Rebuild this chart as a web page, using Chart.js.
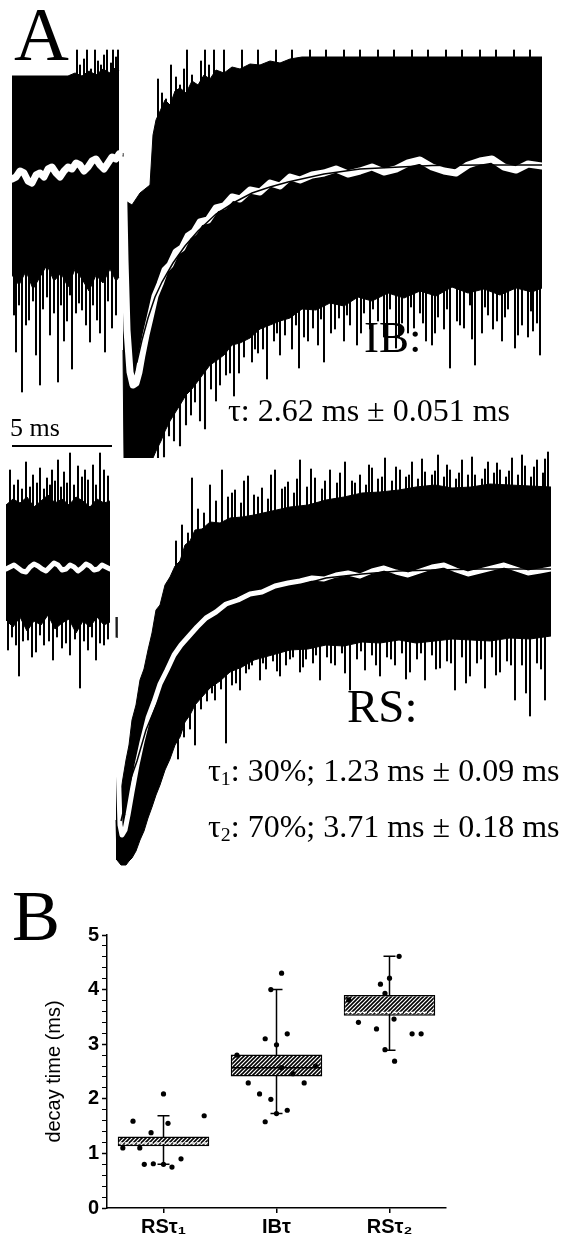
<!DOCTYPE html>
<html>
<head>
<meta charset="utf-8">
<script src="https://cdn.jsdelivr.net/npm/chart.js@4.4.0/dist/chart.umd.min.js"></script>
<style>
  html, body { margin: 0; padding: 0; background: #fff; overflow: hidden; }
  #page { position: relative; width: 565px; height: 1247px; }
  canvas { position: absolute; }
  .t { position: absolute; line-height: 1; white-space: nowrap; color: #000;
       font-family: "Liberation Serif", "Times New Roman", serif; }
  .t sub { font-size: 0.62em; vertical-align: -0.22em; line-height: 0; }
</style>
</head>
<body>
<div id="page">
  <canvas id="ib" width="530" height="410" style="left:12px;top:48px"></canvas>
  <canvas id="rs" width="545" height="420" style="left:6px;top:450px"></canvas>
  <canvas id="box" width="470" height="327" style="left:0;top:920px"></canvas>

  <div class="t" style="left:14px;top:-4px;font-size:76px">A</div>
  <div class="t" style="left:10px;top:415px;font-size:26px">5 ms</div>
  <div class="t" style="left:364px;top:315px;font-size:45px">IB:</div>
  <div class="t" style="left:228px;top:394px;font-size:32px">τ: 2.62 ms ± 0.051 ms</div>
  <div class="t" style="left:347px;top:683px;font-size:47px">RS:</div>
  <div class="t" style="left:208px;top:754px;font-size:32px">τ<sub>1</sub>: 30%; 1.23 ms ± 0.09 ms</div>
  <div class="t" style="left:208px;top:810px;font-size:32px">τ<sub>2</sub>: 70%; 3.71 ms ± 0.18 ms</div>
  <div class="t" style="left:12px;top:880px;font-size:72px">B</div>
</div>

<script>
// ---- panel A, IB cell (time in ms, current in pA, baseline 0) ----
// solid part of the overlaid raw sweeps
const ibCoreT   = [0, 0.35, 0.7, 1.05, 1.4, 1.75, 2.1, 2.45, 2.8, 3.15, 3.5, 3.85, 4.2, 4.55, 4.9, 5.2, 5.35, 5.45,
  5.55, 5.6, 6.0, 6.4, 6.9, 7.05, 7.2, 7.45, 7.65, 7.9, 8.15, 8.4, 8.7, 9.0, 9.3, 9.6, 9.9, 10.2, 10.6, 11.0, 11.4, 11.9,
  12.4, 12.9, 13.4, 13.9, 14.5, 15.2, 15.9, 16.6, 17.3, 18.0, 18.8, 19.6, 20.4, 21.2, 22.0, 22.8, 23.6, 24.4, 25.2, 26.0, 26.5];
const ibCoreTop = [44.5, 44.5, 44.5, 44.5, 44.5, 44.5, 44.5, 44.5, 44.5, 46, 44.5, 47, 45, 48, 46, 49, 47, null,
  6, -17.5, -20, -14, -10, 15, 22.5, 28, 32.5, 30, 37, 38.5, 36, 42, 40, 45, 43, 47.5, 46, 49, 48, 50.5,
  50, 52, 51, 53, 54, 54, 54, 54, 54, 54, 54, 54, 54, 54, 54, 54, 54, 54, 54, 54, 54];
const ibCoreBot = [-55, -60, -53, -62, -56, -50, -58, -54, -61, -52, -57, -63, -55, -59, -52, -58, -56, null,
  -92.5, -146.5, -146.5, -146.5, -146.5, -146.5, -143, -138, -133, -128, -124, -120, -115, -112, -108, -104, -100, -98, -95, -90, -89, -86.5,
  -82, -80, -78, -76.5, -72, -72.5, -69, -70.5, -66, -68, -64, -66.5, -63, -65.5, -61, -64, -62, -65, -61.5, -63.5, -61.5];

// single noise excursions: one vertical stroke from baseline to the tip
const ibSpikeT = [
  3.25, 3.4, 3.6, 3.75, 3.95, 4.15, 4.3, 4.45, 4.6, 4.75, 4.95, 5.05, 5.2, 5.3,
  0.1, 0.2, 0.35, 0.5, 0.7, 0.85, 1.05, 1.2, 1.4, 1.55, 1.75, 1.9, 2.1, 2.3, 2.45, 2.6, 2.75, 2.9, 3.0, 3.2, 3.35, 3.5, 3.7, 3.9, 4.05, 4.25, 4.4, 4.65, 4.8, 5.0, 5.2,
  7.3, 7.5, 7.7, 7.95, 8.2, 8.4, 8.6, 8.75, 9.0, 9.2, 9.45, 9.65, 9.85, 10.1, 10.6, 11.5, 12.3, 13.2, 14.0, 14.9, 15.7, 16.6, 17.4, 18.3, 19.1, 20.0, 20.8, 21.7, 22.5, 23.4, 24.2, 25.1, 25.9,
  7.3, 7.6, 7.85, 8.1, 8.4, 8.7, 8.95, 9.15, 9.4, 9.65, 9.95, 10.2, 10.4, 10.7, 11.1, 11.35, 11.6, 12.0, 12.3, 12.55, 12.75, 13.1, 13.4, 13.65, 14.0, 14.35, 14.6, 15.05, 15.3, 15.6, 15.95, 16.35,
  16.6, 16.9, 17.25, 17.6, 17.9, 18.3, 18.6, 18.9, 19.2, 19.5, 19.8, 20.1, 20.4, 20.7, 21.0, 21.3, 21.6, 21.9, 22.25, 22.6, 22.9, 23.15, 23.5, 23.8, 24.25, 24.5, 24.8, 25.15, 25.5, 25.8, 26.05, 26.4,
  10.9, 12.15, 13.25, 14.2, 14.8, 15.45, 16.15, 16.75, 17.45, 18.05, 18.75, 19.35, 19.95, 20.55, 21.15, 21.75, 22.4, 23.0, 23.65, 24.05, 24.65, 25.3, 25.95, 26.25
];
const ibSpikeTip = [
  57.5, 50, 53, 57.5, 48, 57.5, 52, 50, 55, 57.5, 51, 57.5, 54, 57.5,
  -75, -93.5, -70, -113.5, -80, -77.5, -68, -95, -110, -72, -66, -85, -74, -108.5, -70, -88, -78, -65, -102, -74, -69, -72.5, -80, -88.5, -70, -77.5, -84, -93.5, -68, -81.5, -75,
  43, 36, 33, 50, 44, 40, 48, 57.5, 45, 36.5, 52, 57.5, 50, 57.5, 57.5, 57.5, 57.5, 57.5, 57.5, 57.5, 57.5, 57.5, 57.5, 57.5, 57.5, 57.5, 57.5, 57.5, 57.5, 57.5, 57.5, 57.5, 57.5,
  -146.5, -146, -135.5, -138, -140.5, -130, -125, -118.5, -128, -132, -112, -118, -110, -105, -115.5, -104, -96, -98.5, -94, -92, -107, -88, -95, -85, -92, -101.5, -86, -81.5, -90, -98.5, -84, -76.5,
  -88, -80, -90, -74, -82, -78, -86, -72, -91.5, -79, -84, -81.5, -74, -88, -90, -76, -82, -101.5, -78, -81.5, -70, -100, -84, -75, -78, -88, -72, -91.5, -80, -86, -83, -95,
  -104, -92, -84, -80, -88, -77, -82, -75, -84, -72, -80, -86, -71, -79, -84, -72, -80, -87, -71, -82, -76, -85, -73, -79
];

// averaged sweep (white)
const ibAvgT = [0, 0.2, 0.4, 0.6, 0.8, 1.0, 1.2, 1.4, 1.6, 1.8, 2.0, 2.2, 2.4, 2.6, 2.8, 3.0, 3.2, 3.4, 3.6, 3.8, 4.0, 4.2, 4.4, 4.6, 4.8, 5.0, 5.2, 5.35, 5.45,
  5.55, 5.65, 5.75, 5.9, 6.05, 6.2, 6.35, 6.5, 6.7, 6.9, 7.15, 7.4, 7.65, 7.9, 8.2, 8.5, 8.8, 9.1, 9.4, 9.8,
  10.2, 10.6, 11.0, 11.4, 11.9, 12.4, 12.9, 13.4, 13.9, 14.4, 15.0, 15.6, 16.2, 16.8, 17.4, 18.0, 18.6, 19.2, 19.8, 20.4,
  21.0, 21.6, 22.2, 22.8, 23.4, 24.0, 24.6, 25.2, 25.8, 26.5];
const ibAvgA = [-7, -6, -3, -4, -8, -9, -5, -4, -6, -2, -1, -4, -6, -3, -1, -2, 1, 0, -3, -1, 2, 3, 0, -2, 1, 4, 3, 5.5, null,
  2.5, -47.5, -82.5, -103.5, -110, -109, -103.5, -95, -85, -76.5, -65.5, -59.5, -52.5, -50, -43.5, -41.5, -35.5, -33.5, -28.5, -27.5,
  -21.5, -20.5, -16, -17, -12.5, -13.5, -9, -10.5, -6, -7.5, -5, -4, -2, -4.5, -3, -1, -3.5, -2, 1, 2.5,
  -1, -3, -4, 0, 2, 3, -1, -2.5, 0.5, -0.5];

// single exponential fit
const ibFitT = [6.1, 6.25, 6.5, 6.8, 7.15, 7.5, 8.05, 8.65, 9.3, 10.2, 11.15, 12.0, 12.9, 13.8, 15.6, 17.4, 19.4, 21.0, 23.4, 26.5];
const ibFitA = [-100.5, -98.5, -87.5, -76.5, -66, -58.5, -49, -40.5, -33, -24.5, -18.5, -14, -11, -8.5, -4.5, -2, -1, -0.25, 0, 0];

// ---- panel A, RS cell ----
const rsCoreT   = [0, 0.35, 0.7, 1.05, 1.4, 1.75, 2.1, 2.45, 2.8, 3.15, 3.5, 3.85, 4.2, 4.55, 4.9, 5.2, 5.35,
  5.5, 5.55, 5.75, 6.0, 6.15, 6.3, 6.5, 6.7, 6.9, 7.1, 7.3, 7.5, 7.7, 7.95, 8.2, 8.45, 8.7, 8.95, 9.2, 9.45, 9.8, 10.2, 10.7,
  11.2, 11.8, 12.4, 13.3, 14.2, 15.1, 16.0, 16.9, 17.8, 18.7, 19.65, 20.5, 21.45, 22.3, 23.25, 24.2, 25.2, 26.2, 27.25];
const rsCoreTop = [32, 35, 33, 36, 31, 34, 37, 33, 35, 32, 36, 34, 31, 35, 33, 34, null,
  -24, -115.5, -110.5, -95.5, -88, -75.5, -68, -55.5, -50, -40.5, -32, -20.5, -18, -8, -4, 1.5, 4, 12, 14, 19.5, 20, 23.5, 23,
  25.5, 26, 27, 29, 31, 32, 34.5, 36, 38, 38.5, 39.5, 41, 42, 40.5, 41, 42.5, 42, 41.5, 41];
const rsCoreBot = [-25.5, -29, -24, -31, -26, -28, -23, -30, -27, -25, -32, -26, -29, -24, -28, -26.5, null,
  -125.5, -145.5, -148, -148, -146, -144.5, -141, -135.5, -131, -124.5, -119, -113, -108, -100.5, -95, -88, -84, -76.5, -73, -68, -64, -59.5, -56,
  -51.5, -49, -45.5, -43, -40.5, -40, -38, -38.5, -36.5, -37, -35.5, -37, -36, -35, -35.5, -36, -34.5, -35, -33.5];

const rsSpikeT = [
  0.2, 0.4, 0.6, 0.8, 1.0, 1.2, 1.35, 1.55, 1.7, 1.9, 2.05, 2.2, 2.3, 2.45, 2.6, 2.75, 2.9, 3.05, 3.2, 3.4, 3.6, 3.8, 3.95, 4.1, 4.35, 4.5, 4.7, 4.9, 5.1,
  0.1, 0.3, 0.5, 0.65, 0.85, 1.1, 1.3, 1.5, 1.7, 1.9, 2.15, 2.35, 2.55, 2.8, 3.0, 3.2, 3.45, 3.7, 3.9, 4.1, 4.3, 4.5, 4.7, 4.9, 5.1,
  8.5, 8.8, 9.1, 9.3, 9.6, 9.9, 10.2, 10.5, 10.8, 11.1, 11.45, 11.75, 12.1, 12.4, 12.8, 13.1, 13.45, 13.8, 14.1, 14.4, 14.7, 15.05, 15.45, 15.8, 16.2, 16.55, 16.95, 17.3, 17.7, 18.0,
  18.3, 18.6, 18.95, 19.3, 19.7, 20.0, 20.3, 20.6, 20.95, 21.3, 21.6, 21.9, 22.2, 22.5, 22.8, 23.1, 23.45, 23.8, 24.1, 24.4, 24.7, 25.0, 25.3, 25.6, 25.95, 26.25, 26.55, 26.85, 27.1,
  8.6, 8.9, 9.2, 9.45, 9.75, 10.05, 10.45, 10.75, 11.0, 11.3, 11.7, 12.0, 12.3, 12.7, 13.0, 13.35, 13.7, 14.0, 14.35, 14.7, 15.0, 15.35, 15.7, 16.05, 16.45, 16.8,
  17.2, 17.55, 17.95, 18.3, 18.7, 19.05, 19.45, 19.8, 20.2, 20.55, 20.95, 21.3, 21.7, 22.05, 22.45, 22.8, 23.2, 23.55, 23.95, 24.3, 24.7, 25.05, 25.45, 25.8, 26.2, 26.55, 26.95,
  11.3, 11.9, 12.6, 13.25, 13.95, 14.55, 15.25, 15.95, 16.7, 17.45, 18.15, 18.8, 19.5, 20.15, 20.8, 21.45, 22.05, 22.65, 23.3, 23.95, 24.55, 25.15, 25.8, 26.4, 26.95,
  10.3, 11.5, 12.15, 12.85, 13.55, 14.2, 14.85, 15.5, 16.25, 16.95, 17.75, 18.5, 19.25, 20.0, 20.75, 21.5, 22.25, 23.0, 23.75, 24.5, 25.25, 26.0, 26.75
];
const rsSpikeTip = [
  49.5, 42, 44.5, 40, 53.5, 41, 47, 43, 50.5, 40, 45.5, 42, 49.5, 44, 54.5, 41, 48.5, 43, 58, 42, 51.5, 46, 49.5, 44.5, 52, 42, 58, 49.5, 46.5,
  -40.5, -34, -38, -53.5, -36, -35.5, -44, -41.5, -33, -38, -36, -45.5, -34, -39.5, -37, -43, -35, -59.5, -36, -40.5, -34, -45.5, -37, -38, -35,
  14, 22, 18, 45.5, 30, 28, 42, 34, 49.5, 36, 39.5, 33, 46.5, 37, 40.5, 35, 49.5, 40, 43.5, 38, 54.5, 41, 45.5, 40, 49.5, 43, 53.5, 44, 47, 42,
  50.5, 45, 55.5, 44, 49.5, 46, 53.5, 45, 48.5, 47, 57, 46, 49.5, 45, 54.5, 47, 47, 45, 53.5, 48, 49.5, 46, 55.5, 47, 51.5, 46, 54.5, 48, 58.5,
  -95, -84, -80, -88, -70, -66, -65.5, -60, -87, -58, -60.5, -52, -48, -55.5, -50, -46, -53.5, -48, -44, -51.5, -45, -47, -55.5, -44, -48, -42,
  -60.5, -45, -50.5, -43, -53.5, -44, -48, -42, -51.5, -45, -55.5, -43, -49.5, -46, -60.5, -44, -53.5, -47, -59.5, -44, -51.5, -46, -65.5, -48, -73.5, -47, -65.5,
  38, 44, 36, 47, 41, 45, 50, 44, 48, 43, 52, 46, 51, 47, 55, 49, 52, 48, 56, 50, 53, 49, 57, 51, 55,
  -62, -57, -50, -47, -51, -45, -49, -43, -47, -52, -41, -48, -45, -55, -42, -50, -47, -57, -45, -53, -48, -62, -50
];

const rsAvgT = [0, 0.2, 0.4, 0.6, 0.8, 1.0, 1.2, 1.4, 1.6, 1.8, 2.0, 2.2, 2.4, 2.6, 2.8, 3.0, 3.2, 3.4, 3.6, 3.8, 4.0, 4.2, 4.4, 4.6, 4.8, 5.0, 5.2, 5.35,
  5.5, 5.6, 5.7, 5.8, 5.95, 6.1, 6.3, 6.55, 6.8, 7.1, 7.4, 7.7, 8.05, 8.4, 8.75, 9.15, 9.55, 10.0, 10.5, 11.0, 11.6, 12.2, 12.8, 13.45,
  14.1, 14.7, 15.3, 15.9, 16.5, 17.1, 17.7, 18.3, 18.9, 19.5, 20.1, 20.7, 21.3, 21.9, 22.5, 23.1, 23.7, 24.3, 24.9, 25.5, 26.1, 26.7, 27.25];
const rsAvgA = [0, 1, 2, 0.5, -1, -1.5, 1, 2.5, 1.5, 0, -1, 1, 3, 2, -0.5, 0, 2, 1, -1, 0.5, 2.5, 1.5, -0.5, 0, 2, 1, 0, null,
  -35.5, -95.5, -128, -133, -130.5, -123, -111.5, -98, -86.5, -74.5, -66.5, -57.5, -50.5, -43, -38, -33.5, -29, -24.5, -21.5, -17.5, -15.5, -12.5, -11.5, -8.5,
  -7, -6, -4.5, -5, -3, -2, -3.5, -1, 0.5, -1.5, -3, -1, 1, 2, -0.5, -2.5, -1, 0.5, 2, 0, -2, -1, 0];

// two-exponential fit
const rsFitT = [5.75, 6.0, 6.25, 6.55, 7.0, 7.5, 7.95, 8.4, 8.9, 9.45, 10.0, 10.55, 11.45, 12.4, 13.3, 14.2, 15.1, 16.0, 16.9, 17.8, 19.65, 21.45, 23.7, 27.25];
const rsFitA = [-126, -115.5, -104.5, -96, -80.5, -68.5, -58.5, -50, -42.5, -36.5, -31, -27, -21, -16, -12.5, -9.5, -7, -4.5, -3.5, -2.5, -1, -0.5, 0, 0];

const scaleBarMs = 5;
const scaleBarLevel = -140.5;

// ---- panel B ----
const cats = ['RSτ₁', 'IBτ', 'RSτ₂'];
const boxLo = [1.13, 2.41, 3.52];
const boxHi = [1.31, 2.81, 3.90];
const boxMid = [1.19, 2.57, 3.58];
const whiskLo = [0.80, 1.73, 2.89];
const whiskHi = [1.69, 4.00, 4.61];
// single cells, offset is the horizontal jitter inside the category
const rs1Off = [-0.36, -0.27, -0.21, -0.17, -0.11, -0.09, 0, 0, 0.04, 0.075, 0.155, 0.36];
const rs1Val = [1.10, 1.59, 1.10, 0.80, 1.38, 0.81, 2.09, 0.80, 1.55, 0.75, 0.90, 1.69];
const ibOff = [-0.35, -0.25, -0.15, -0.10, -0.10, -0.05, -0.05, 0, 0, 0.045, 0.045, 0.095, 0.095, 0.145, 0.245, 0.345];
const ibVal = [2.80, 2.29, 2.09, 3.10, 1.58, 1.99, 4.00, 2.99, 1.73, 4.30, 2.57, 3.19, 1.79, 2.46, 2.29, 2.60];
const rs2Off = [-0.36, -0.275, -0.115, -0.08, -0.04, -0.04, 0, 0.04, 0.045, 0.085, 0.2, 0.28];
const rs2Val = [3.81, 3.40, 3.28, 4.10, 3.93, 2.90, 4.21, 3.46, 2.69, 4.61, 3.19, 3.19];

Chart.defaults.font.family = "'Liberation Sans', Arial, sans-serif";
Chart.defaults.color = '#000';

const pts = (xs, ys) => xs.map((x, i) => ({ x: x, y: ys[i] }));
const strokes = (xs, tips) => xs.map((x, i) => ({ x: x, y: [0, tips[i]] }));

function traceChart(id, xMax, yMin, yMax, d, avgWidth, extra) {
  return new Chart(document.getElementById(id), {
    type: 'line',
    data: {
      datasets: [
        { data: pts(d.coreT, d.coreTop), borderColor: '#000', borderWidth: 1, backgroundColor: '#000', fill: '+1', order: 4 },
        { data: pts(d.coreT, d.coreBot), borderColor: '#000', borderWidth: 1, fill: false, order: 4 },
        { type: 'bar', data: strokes(d.spikeT, d.spikeTip), backgroundColor: '#000', barThickness: 1.4, grouped: false, order: 3 },
        { data: pts(d.avgT, d.avgA), borderColor: '#fff', borderWidth: avgWidth, borderJoinStyle: 'round', borderCapStyle: 'round', fill: false, order: 2 },
        { data: pts(d.fitT, d.fitA), borderColor: '#000', borderWidth: 1.5, fill: false, order: 1 }
      ]
    },
    options: {
      responsive: false,
      animation: false,
      events: [],
      layout: { padding: 0 },
      elements: { point: { radius: 0 }, line: { tension: 0 } },
      plugins: { legend: { display: false }, tooltip: { enabled: false } },
      scales: {
        x: { type: 'linear', min: 0, max: xMax, offset: false, display: false },
        y: { type: 'linear', min: yMin, max: yMax, display: false }
      }
    },
    plugins: extra ? [extra] : []
  });
}

const scaleBar = {
  id: 'scaleBar',
  afterDraw(chart) {
    const { ctx, scales: { x, y } } = chart;
    const yy = y.getPixelForValue(scaleBarLevel);
    ctx.save();
    ctx.strokeStyle = '#000';
    ctx.lineWidth = 2;
    ctx.beginPath();
    ctx.moveTo(x.getPixelForValue(0) - 2, yy);
    ctx.lineTo(x.getPixelForValue(scaleBarMs), yy);
    ctx.stroke();
    ctx.restore();
  }
};

traceChart('ib', 26.5, -146.5, 58.5, {
  coreT: ibCoreT, coreTop: ibCoreTop, coreBot: ibCoreBot,
  spikeT: ibSpikeT, spikeTip: ibSpikeTip,
  avgT: ibAvgT, avgA: ibAvgA, fitT: ibFitT, fitA: ibFitA
}, 7, scaleBar);

traceChart('rs', 27.25, -150.5, 59.5, {
  coreT: rsCoreT, coreTop: rsCoreTop, coreBot: rsCoreBot,
  spikeT: rsSpikeT, spikeTip: rsSpikeTip,
  avgT: rsAvgT, avgA: rsAvgA, fitT: rsFitT, fitA: rsFitA
}, 5);

// hatched fill for the boxes
const hatch = document.createElement('canvas');
hatch.width = 4; hatch.height = 4;
const hc = hatch.getContext('2d');
hc.fillStyle = '#fff';
hc.fillRect(0, 0, 4, 4);
hc.strokeStyle = '#000';
hc.lineWidth = 1.6;
hc.beginPath();
hc.moveTo(0, 4); hc.lineTo(4, 0);
hc.moveTo(-1, 1); hc.lineTo(1, -1);
hc.moveTo(3, 5); hc.lineTo(5, 3);
hc.stroke();
const boxCanvas = document.getElementById('box');
const hatchFill = boxCanvas.getContext('2d').createPattern(hatch, 'repeat');

const whiskers = {
  id: 'whiskers',
  beforeDatasetsDraw(chart) {
    const { ctx, scales: { x, y } } = chart;
    ctx.save();
    ctx.strokeStyle = '#000';
    ctx.lineWidth = 1.5;
    cats.forEach((c, i) => {
      const px = x.getPixelForValue(i + 1);
      const lo = y.getPixelForValue(whiskLo[i]);
      const hi = y.getPixelForValue(whiskHi[i]);
      ctx.beginPath();
      ctx.moveTo(px, lo); ctx.lineTo(px, hi);
      ctx.moveTo(px - 6, lo); ctx.lineTo(px + 6, lo);
      ctx.moveTo(px - 6, hi); ctx.lineTo(px + 6, hi);
      ctx.stroke();
    });
    ctx.restore();
  },
  afterDatasetDraw(chart, args) {
    if (args.meta.type !== 'bar') return;
    const { ctx, scales: { y } } = chart;
    ctx.save();
    args.meta.data.forEach((bar, i) => {
      const yy = y.getPixelForValue(boxMid[i]);
      ctx.beginPath();
      if (i === 1) {
        ctx.strokeStyle = '#000'; ctx.lineWidth = 1.5; ctx.setLineDash([]);
      } else {
        ctx.strokeStyle = '#fff'; ctx.lineWidth = 1.5; ctx.setLineDash([4, 2]);
      }
      ctx.moveTo(bar.x - bar.width / 2 + 1, yy);
      ctx.lineTo(bar.x + bar.width / 2 - 1, yy);
      ctx.stroke();
    });
    ctx.restore();
  }
};

const dots = []
  .concat(rs1Off.map((o, i) => ({ x: 1 + o, y: rs1Val[i] })))
  .concat(ibOff.map((o, i) => ({ x: 2 + o, y: ibVal[i] })))
  .concat(rs2Off.map((o, i) => ({ x: 3 + o, y: rs2Val[i] })));

new Chart(boxCanvas, {
  type: 'bar',
  data: {
    datasets: [
      {
        type: 'bar',
        data: boxLo.map((v, i) => ({ x: i + 1, y: [v, boxHi[i]] })),
        backgroundColor: hatchFill,
        borderColor: '#000',
        borderWidth: 1.5,
        borderSkipped: false,
        categoryPercentage: 0.9,
        barPercentage: 0.9,
        order: 1
      },
      {
        type: 'scatter',
        data: dots,
        pointRadius: 2.6,
        pointBackgroundColor: '#000',
        pointBorderWidth: 0,
        order: 0
      }
    ]
  },
  options: {
    responsive: false,
    animation: false,
    events: [],
    layout: { padding: { top: 13, right: 24, left: 0, bottom: 0 } },
    plugins: { legend: { display: false }, tooltip: { enabled: false } },
    scales: {
      x: {
        type: 'linear', min: 0.5, max: 3.5, offset: false,
        afterBuildTicks: s => { s.ticks = cats.map((c, i) => ({ value: i + 1 })); },
        afterFit: s => { s.height = 39; },
        ticks: { callback: v => cats[Math.round(v) - 1], font: { size: 20, weight: 'bold' }, color: '#000', padding: 2, autoSkip: false, maxRotation: 0 },
        grid: { display: true, offset: false, drawOnChartArea: false, tickLength: 5, color: '#000', lineWidth: 1.5 },
        border: { color: '#000', width: 1.5 }
      },
      y: {
        type: 'linear', min: 0, max: 5,
        afterFit: s => { s.width = 107; },
        ticks: {
          stepSize: 0.2, maxTicksLimit: 30, autoSkip: false, padding: 3,
          font: { size: 20, weight: 'bold' }, color: '#000',
          callback: v => Math.abs(v - Math.round(v)) < 1e-6 ? String(Math.round(v)) : ''
        },
        grid: {
          drawOnChartArea: false, tickLength: 5, color: '#000',
          tickWidth: c => (c.tick && Math.abs(c.tick.value - Math.round(c.tick.value)) < 1e-6) ? 1.5 : 1
        },
        border: { color: '#000', width: 1.5 },
        title: { display: true, text: 'decay time (ms)', font: { size: 20 }, color: '#000', padding: { top: 42, bottom: 0 } }
      }
    }
  },
  plugins: [whiskers]
});
</script>
</body>
</html>
